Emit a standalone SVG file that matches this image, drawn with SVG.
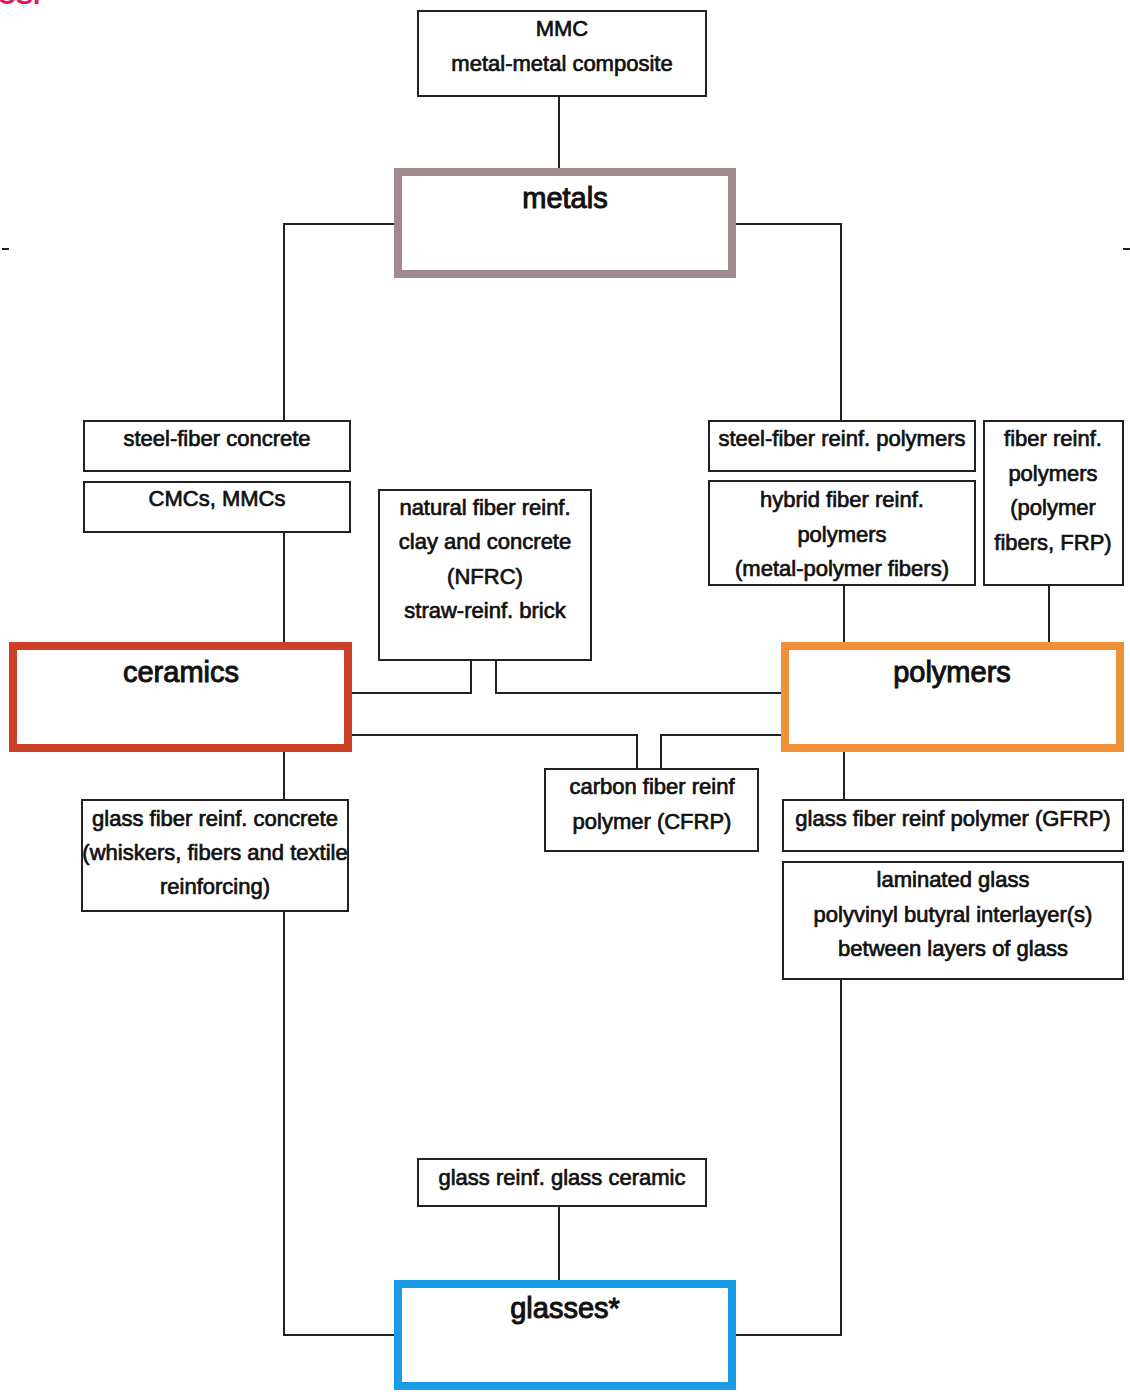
<svg xmlns="http://www.w3.org/2000/svg" width="1130" height="1392" viewBox="0 0 1130 1392">
<style>
.bg{fill:#fff}
.box{fill:#fff;stroke:#222;stroke-width:2}
.big{fill:#fff;stroke-width:8}
.t{font-family:"Liberation Sans",Arial,sans-serif;font-size:22px;fill:#111;stroke:#111;stroke-width:0.7;text-anchor:middle}
.T{font-family:"Liberation Sans",Arial,sans-serif;font-size:29px;fill:#111;stroke:#111;stroke-width:1;text-anchor:middle}
.c{fill:none;stroke:#222;stroke-width:2}
</style>
<rect class="bg" x="0" y="0" width="1130" height="1392"/>
<text x="-3" y="4" font-family="Liberation Sans,Arial,sans-serif" font-size="26" font-weight="bold" fill="#e8175d">CSI</text>
<rect x="2" y="248" width="7" height="2" fill="#222"/>
<rect x="1123" y="248" width="7" height="2" fill="#222"/>
<g id="connectors">
<path class="c" d="M559 96V170"/>
<path class="c" d="M394 224H284V421"/>
<path class="c" d="M736 224H841V421"/>
<path class="c" d="M284 532V644"/>
<path class="c" d="M471 660V693H352"/>
<path class="c" d="M496 660V693H782"/>
<path class="c" d="M352 735H637V769"/>
<path class="c" d="M782 735H661V769"/>
<path class="c" d="M844 585V644"/>
<path class="c" d="M1049 585V644"/>
<path class="c" d="M844 752V800"/>
<path class="c" d="M284 752V800"/>
<path class="c" d="M841 979V1335H736"/>
<path class="c" d="M284 911V1335H394"/>
<path class="c" d="M559 1206V1282"/>
</g>
<g id="mmc"><rect class="box" x="418" y="11" width="288" height="85"/><text class="t" x="562" y="36">MMC</text><text class="t" x="562" y="71">metal-metal composite</text></g>
<g id="metals"><rect class="big" stroke="#a08a8e" x="398" y="172" width="334" height="102"/><text class="T" x="565" y="208">metals</text></g>
<g id="steel-fiber-concrete"><rect class="box" x="84" y="421" width="266" height="50"/><text class="t" x="217" y="446">steel-fiber concrete</text></g>
<g id="cmcs"><rect class="box" x="84" y="482" width="266" height="50"/><text class="t" x="217" y="506">CMCs, MMCs</text></g>
<g id="natural-fiber"><rect class="box" x="379" y="490" width="212" height="170"/><text class="t" x="485" y="515">natural fiber reinf.</text><text class="t" x="485" y="549">clay and concrete</text><text class="t" x="485" y="584">(NFRC)</text><text class="t" x="485" y="618">straw-reinf. brick</text></g>
<g id="ceramics"><rect class="big" stroke="#cc4128" x="13" y="646" width="335" height="102"/><text class="T" x="181" y="682">ceramics</text></g>
<g id="steel-fiber-polymers"><rect class="box" x="709" y="421" width="266" height="50"/><text class="t" x="842" y="446">steel-fiber reinf. polymers</text></g>
<g id="hybrid"><rect class="box" x="709" y="481" width="266" height="104"/><text class="t" x="842" y="507">hybrid fiber reinf.</text><text class="t" x="842" y="542">polymers</text><text class="t" x="842" y="576">(metal-polymer fibers)</text></g>
<g id="frp"><rect class="box" x="984" y="421" width="139" height="164"/><text class="t" x="1053" y="446">fiber reinf.</text><text class="t" x="1053" y="481">polymers</text><text class="t" x="1053" y="515">(polymer</text><text class="t" x="1053" y="550">fibers, FRP)</text></g>
<g id="polymers"><rect class="big" stroke="#f0913a" x="785" y="646" width="335" height="102"/><text class="T" x="952" y="682">polymers</text></g>
<g id="cfrp"><rect class="box" x="545" y="769" width="213" height="82"/><text class="t" x="652" y="794">carbon fiber reinf</text><text class="t" x="652" y="829">polymer (CFRP)</text></g>
<g id="gfrc"><rect class="box" x="82" y="800" width="266" height="111"/><text class="t" x="215" y="826">glass fiber reinf. concrete</text><text class="t" x="215" y="860">(whiskers, fibers and textile</text><text class="t" x="215" y="894">reinforcing)</text></g>
<g id="gfrp"><rect class="box" x="783" y="800" width="340" height="51"/><text class="t" x="953" y="826">glass fiber reinf polymer (GFRP)</text></g>
<g id="laminated"><rect class="box" x="783" y="862" width="340" height="117"/><text class="t" x="953" y="887">laminated glass</text><text class="t" x="953" y="922">polyvinyl butyral interlayer(s)</text><text class="t" x="953" y="956">between layers of glass</text></g>
<g id="glass-ceramic"><rect class="box" x="418" y="1159" width="288" height="47"/><text class="t" x="562" y="1185">glass reinf. glass ceramic</text></g>
<g id="glasses"><rect class="big" stroke="#1a9be6" x="398" y="1284" width="334" height="102"/><text class="T" x="565" y="1318">glasses*</text></g>
</svg>
